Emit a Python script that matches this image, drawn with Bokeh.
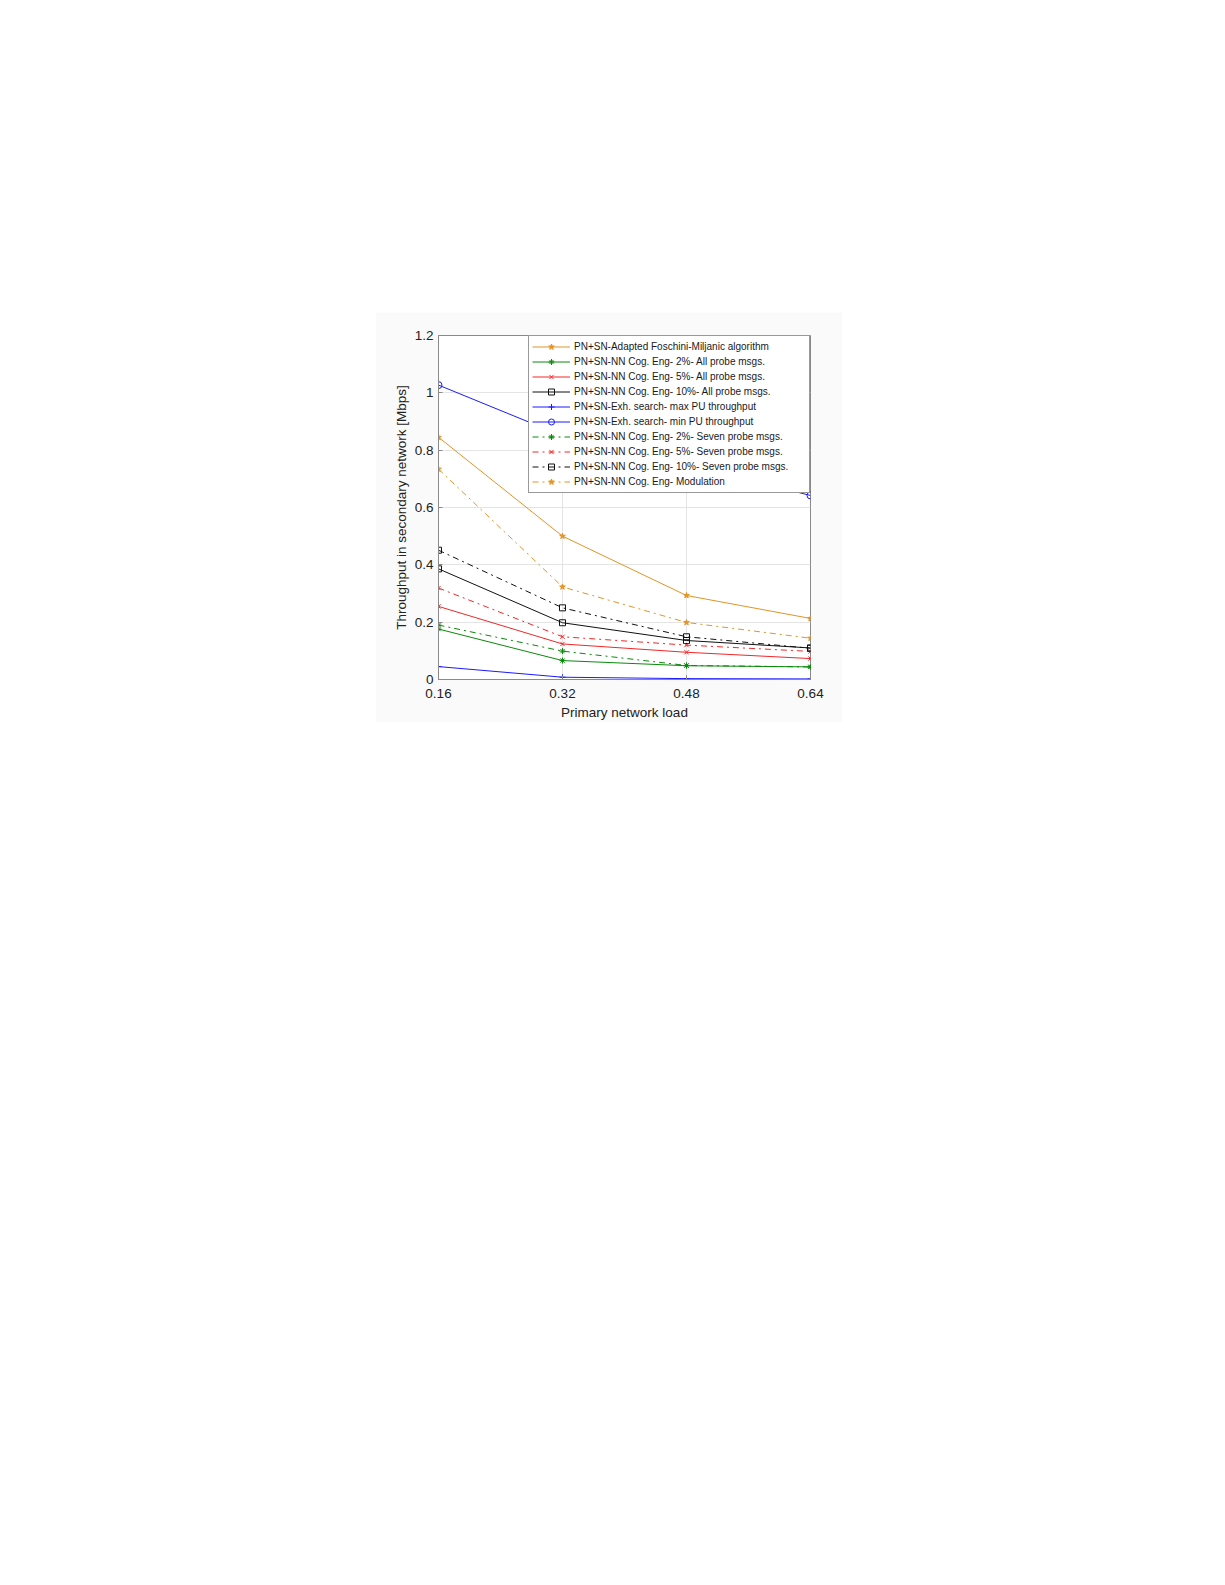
from bokeh.plotting import figure
from bokeh.layouts import column, row
from bokeh.models import Spacer, FixedTicker, Legend, LegendItem
from bokeh.embed import file_html
from bokeh.resources import INLINE

# primary network load
load = [0.16, 0.32, 0.48, 0.64]

# throughput in secondary network [Mbps]
foschini = [0.845, 0.50, 0.293, 0.213]
nn2_all = [0.176, 0.066, 0.048, 0.044]
nn5_all = [0.255, 0.124, 0.095, 0.073]
nn10_all = [0.386, 0.198, 0.136, 0.110]
exh_max = [0.045, 0.008, 0.003, 0.002]
exh_min = [1.027, 0.85, 0.75, 0.642]
nn2_seven = [0.190, 0.099, 0.049, 0.044]
nn5_seven = [0.319, 0.149, 0.120, 0.098]
nn10_seven = [0.451, 0.250, 0.149, 0.109]
modulation = [0.734, 0.323, 0.199, 0.144]

labels = [
    "PN+SN-Adapted Foschini-Miljanic algorithm",
    "PN+SN-NN Cog. Eng- 2%- All probe msgs.",
    "PN+SN-NN Cog. Eng- 5%- All probe msgs.",
    "PN+SN-NN Cog. Eng- 10%- All probe msgs.",
    "PN+SN-Exh. search- max PU throughput",
    "PN+SN-Exh. search- min PU throughput",
    "PN+SN-NN Cog. Eng- 2%- Seven probe msgs.",
    "PN+SN-NN Cog. Eng- 5%- Seven probe msgs.",
    "PN+SN-NN Cog. Eng- 10%- Seven probe msgs.",
    "PN+SN-NN Cog. Eng- Modulation",
]

orange = "#e39424"
green = "#0a8a0a"
red = "#f02828"
blue = "#1a1aff"
black = "#111111"

series = [
    (foschini, orange, "solid", "star"),
    (nn2_all, green, "solid", "asterisk"),
    (nn5_all, red, "solid", "x"),
    (nn10_all, black, "solid", "square"),
    (exh_max, blue, "solid", "cross"),
    (exh_min, blue, "solid", "circle"),
    (nn2_seven, green, "dashdot", "asterisk"),
    (nn5_seven, red, "dashdot", "x"),
    (nn10_seven, black, "dashdot", "square"),
    (modulation, orange, "dashdot", "star"),
]

font = "Liberation Sans"

p = figure(width=467, height=410, x_range=(0.16, 0.64), y_range=(0, 1.2),
           output_backend="svg", toolbar_location=None,
           min_border_left=63, min_border_right=32, min_border_top=23, min_border_bottom=43)
p.background_fill_color = "white"
p.border_fill_color = "#fafafa"
p.outline_line_color = "#8a8a8a"
p.outline_line_width = 1

items = []
for (vals, col, dash, mk), lab in zip(series, labels):
    r1 = p.line(load, vals, line_color=col, line_width=1, line_dash=dash)
    r2 = p.scatter(load, vals, marker=mk, size=6 if mk != "circle" else 7,
                   line_color=col, fill_color=None if mk in ("square", "circle") else col,
                   line_width=1)
    items.append(LegendItem(label=lab, renderers=[r1, r2]))

leg = Legend(items=items, location="top_right")
leg.label_text_font = font
leg.label_text_font_size = "10px"
leg.label_text_color = "#1a1a1a"
leg.label_height = 15
leg.glyph_height = 15
leg.glyph_width = 38
leg.label_width = 232
leg.label_standoff = 4
leg.spacing = 0
leg.padding = 3
leg.margin = 0
leg.border_line_color = "#333333"
leg.border_line_width = 1
leg.background_fill_alpha = 1
p.add_layout(leg)

p.xaxis.ticker = FixedTicker(ticks=load)
p.xaxis.major_label_overrides = {0.16: "0.16", 0.32: "0.32", 0.48: "0.48", 0.64: "0.64"}
p.yaxis.ticker = FixedTicker(ticks=[0, 0.2, 0.4, 0.6, 0.8, 1.0, 1.2])
p.yaxis.major_label_overrides = {0: "0", 0.2: "0.2", 0.4: "0.4", 0.6: "0.6",
                                 0.8: "0.8", 1.0: "1", 1.2: "1.2"}

p.xaxis.axis_label = "Primary network load"
p.yaxis.axis_label = "Throughput in secondary network [Mbps]"

for ax in (p.xaxis, p.yaxis):
    ax.axis_line_color = "#8a8a8a"
    ax.major_tick_line_color = "#8a8a8a"
    ax.major_tick_in = 4
    ax.major_tick_out = 0
    ax.minor_tick_line_color = None
    ax.major_label_text_font = font
    ax.major_label_text_font_size = "13.5px"
    ax.major_label_text_color = "#222222"
    ax.axis_label_text_font = font
    ax.axis_label_text_font_size = "13.5px"
    ax.axis_label_text_font_style = "normal"
    ax.axis_label_text_color = "#222222"
p.xaxis.major_label_standoff = 9
p.yaxis.major_label_standoff = 5
p.xaxis.axis_label_standoff = 4
p.yaxis.axis_label_standoff = 3

p.grid.grid_line_color = "#e4e4e4"
p.grid.grid_line_width = 1

layout = column(Spacer(height=312), row(Spacer(width=375), p))

open("out.html", "w").write(file_html(layout, INLINE))
